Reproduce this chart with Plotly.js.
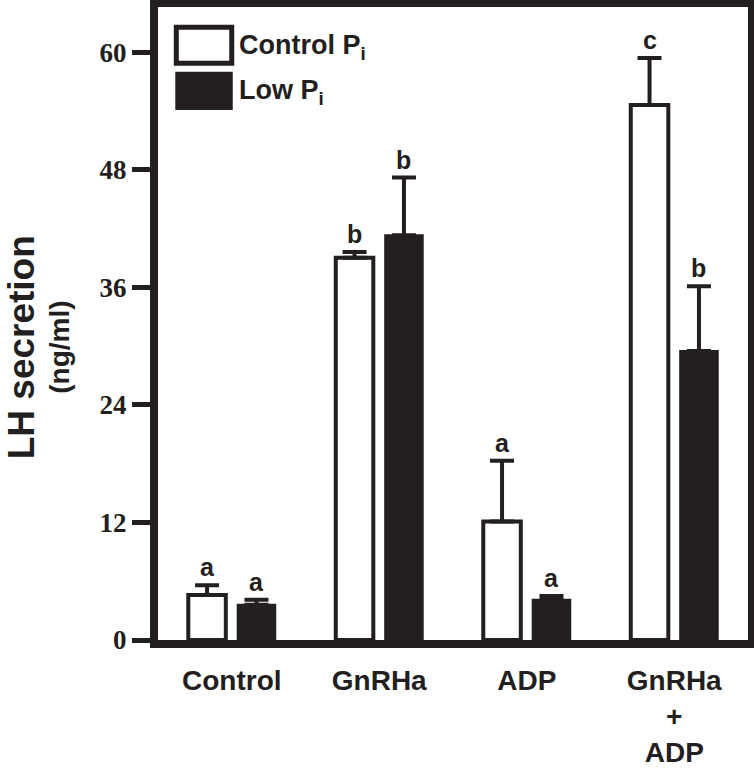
<!DOCTYPE html>
<html>
<head>
<meta charset="utf-8">
<script src="https://cdn.plot.ly/plotly-3.0.1.min.js"></script>
<style>
  body { margin: 0; background: #fff; }
  #chart { width: 754px; height: 771px; }
</style>
</head>
<body>
<div id="chart"></div>
<script>
// treatment groups along the x axis
var groups = ["Control", "GnRHa", "ADP", "GnRHa+ADP"];
var groupLabels = ["Control", "GnRHa", "ADP", "GnRHa<br>+<br>ADP"];

// LH secretion (ng/ml), mean and top of the error bar
var controlPi = [4.6, 39.0, 12.1, 54.6];
var controlPiTop = [5.6, 39.6, 18.3, 59.4];
var lowPi = [3.6, 41.3, 4.1, 29.5];
var lowPiTop = [4.1, 47.2, 4.5, 36.1];

// significance letters
var controlLetters = ["a", "b", "a", "c"];
var lowLetters = ["a", "b", "a", "b"];

var yTicks = [0, 12, 24, 36, 48, 60];

var ink = "#231f20";
var bargap = 0.33;

function errs(vals, tops) {
  return tops.map((t, i) => +(t - vals[i]).toFixed(2));
}

var traceControl = {
  x: groups,
  y: controlPi,
  type: "bar",
  name: "Control P<sub>i</sub>",
  marker: { color: "#ffffff", line: { color: ink, width: 4 } },
  error_y: {
    type: "data", symmetric: false,
    array: errs(controlPi, controlPiTop),
    arrayminus: controlPi.map(() => 0),
    color: ink, thickness: 4, width: 12
  },
  showlegend: false
};

var traceLow = {
  x: groups,
  y: lowPi,
  type: "bar",
  name: "Low P<sub>i</sub>",
  marker: { color: ink, line: { color: ink, width: 2 } },
  error_y: {
    type: "data", symmetric: false,
    array: errs(lowPi, lowPiTop),
    arrayminus: lowPi.map(() => 0),
    color: ink, thickness: 4, width: 12
  },
  showlegend: false
};

var data = [traceControl, traceLow];

// letters above each error bar
var slot = (1 - bargap) / 2;
var annotations = [];
groups.forEach(function (g, i) {
  annotations.push({
    x: i - slot / 2, y: controlPiTop[i], xref: "x", yref: "y",
    text: "<b>" + controlLetters[i] + "</b>", showarrow: false,
    yanchor: "bottom", yshift: 2,
    font: { family: "Liberation Sans, Arial", size: 25, color: ink }
  });
  annotations.push({
    x: i + slot / 2, y: lowPiTop[i], xref: "x", yref: "y",
    text: "<b>" + lowLetters[i] + "</b>", showarrow: false,
    yanchor: "bottom", yshift: 2,
    font: { family: "Liberation Sans, Arial", size: 25, color: ink }
  });
});

// y axis title, two lines
annotations.push({
  x: -0.268, y: 0.463, xref: "paper", yref: "paper",
  text: "<b>LH secretion</b>", showarrow: false, textangle: -90,
  font: { family: "Liberation Sans, Arial", size: 37, color: ink }
});
annotations.push({
  x: -0.196, y: 0.463, xref: "paper", yref: "paper",
  text: "<b>(ng/ml)</b>", showarrow: false, textangle: -90,
  font: { family: "Liberation Sans, Arial", size: 28, color: ink }
});

// legend drawn by hand so the swatches are large
annotations.push({
  x: 0.134, y: 0.967, xref: "paper", yref: "paper", xanchor: "left",
  text: "<b>Control P<sub>i</sub></b>", showarrow: false,
  font: { family: "Liberation Sans, Arial", size: 27, color: ink }
});
annotations.push({
  x: 0.134, y: 0.895, xref: "paper", yref: "paper", xanchor: "left",
  text: "<b>Low P<sub>i</sub></b>", showarrow: false,
  font: { family: "Liberation Sans, Arial", size: 27, color: ink }
});

var shapes = [
  { type: "rect", xref: "paper", yref: "paper",
    x0: 0.031, x1: 0.125, y0: 0.911, y1: 0.968,
    fillcolor: "#ffffff", line: { color: ink, width: 5 } },
  { type: "rect", xref: "paper", yref: "paper",
    x0: 0.031, x1: 0.125, y0: 0.839, y1: 0.896,
    fillcolor: ink, line: { color: ink, width: 2 } }
];

var layout = {
  width: 754,
  height: 771,
  margin: { l: 158, r: 6, t: 7, b: 131 },
  paper_bgcolor: "#ffffff",
  plot_bgcolor: "#ffffff",
  barmode: "group",
  bargap: bargap,
  bargroupgap: 0.24,
  xaxis: {
    type: "category",
    range: [-0.5, 3.5],
    tickvals: groups,
    ticktext: groupLabels.map(s => "<b>" + s + "</b>"),
    showline: true, mirror: true, linecolor: ink, linewidth: 8,
    ticks: "", showgrid: false, zeroline: false,
    tickfont: { family: "Liberation Sans, Arial", size: 28, color: ink },
    ticklabelstandoff: 8
  },
  yaxis: {
    range: [0, 64.6],
    tickvals: yTicks,
    ticktext: yTicks.map(v => "<b>" + v + "</b>"),
    showline: true, mirror: true, linecolor: ink, linewidth: 8,
    ticks: "outside", ticklen: 18, tickwidth: 5, tickcolor: ink,
    showgrid: false, zeroline: false,
    tickfont: { family: "Liberation Serif, Times New Roman", size: 27, color: ink }
  },
  annotations: annotations,
  shapes: shapes,
  showlegend: false
};

Plotly.newPlot("chart", data, layout, { displayModeBar: false });
</script>
</body>
</html>
